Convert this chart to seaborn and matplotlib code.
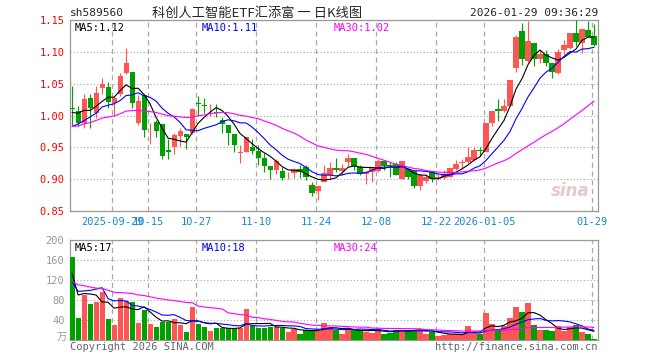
import numpy as np
import pandas as pd
import matplotlib
matplotlib.use("Agg")
import matplotlib.pyplot as plt
import seaborn as sns

# trading days shown (SSE holidays removed)
holidays = ["2025-10-01", "2025-10-02", "2025-10-03", "2025-10-06", "2025-10-07",
            "2025-10-08", "2026-01-01", "2026-01-02"]
dates = [d for d in pd.bdate_range("2025-09-18", "2026-01-29").strftime("%Y-%m-%d")
         if d not in holidays]

open_ = [1.012, 1.007, 0.989, 1.027, 1.004, 1.043, 1.044, 1.019, 1.034, 1.066,
         1.069, 0.988, 1.032, 0.9875, 0.990, 0.986, 0.946, 0.951, 0.968, 0.971,
         0.972, 1.020, 1.016, 1.0145, 1.006, 0.993, 0.985, 0.971, 0.9415, 0.943,
         0.950, 0.945, 0.934, 0.920, 0.914, 0.913, 0.9075, 0.909, 0.916, 0.919,
         0.891, 0.881, 0.896, 0.906, 0.917, 0.9135, 0.927, 0.934, 0.919, 0.908,
         0.911, 0.9135, 0.928, 0.923, 0.924, 0.9005, 0.916, 0.9125, 0.8885, 0.897,
         0.9125, 0.9005, 0.902, 0.904, 0.916, 0.926, 0.9266, 0.930, 0.945, 0.943,
         0.989, 1.0095, 1.007, 1.015, 1.075, 1.133, 1.085, 1.114, 1.089, 1.096,
         1.082, 1.066, 1.1036, 1.106, 1.130, 1.114, 1.135, 1.1255]
high = [1.047, 1.015, 1.033, 1.033, 1.046, 1.059, 1.052, 1.031, 1.066, 1.106,
        1.069, 1.032, 1.033, 0.988, 0.993, 0.986, 0.963, 0.972, 0.981, 0.971,
        1.011, 1.030, 1.027, 1.018, 1.018, 0.998, 0.985, 0.971, 0.953, 0.966,
        0.963, 0.953, 0.941, 0.920, 0.931, 0.919, 0.912, 0.917, 0.922, 0.922,
        0.895, 0.890, 0.922, 0.927, 0.934, 0.924, 0.940, 0.934, 0.922, 0.9135,
        0.919, 0.931, 0.930, 0.927, 0.927, 0.928, 0.916, 0.9125, 0.908, 0.908,
        0.9135, 0.908, 0.915, 0.918, 0.930, 0.932, 0.950, 0.951, 0.951, 0.989,
        1.0065, 1.0255, 1.0255, 1.056, 1.127, 1.146, 1.149, 1.1145, 1.1025, 1.1036,
        1.082, 1.105, 1.118, 1.130, 1.150, 1.136, 1.149, 1.143]
low = [0.985, 0.983, 0.980, 0.981, 0.996, 1.034, 1.011, 1.000, 1.031, 1.065,
       1.011, 0.985, 0.967, 0.956, 0.967, 0.931, 0.932, 0.939, 0.952, 0.948,
       0.971, 1.000, 1.004, 1.000, 0.997, 0.972, 0.954, 0.942, 0.926, 0.942,
       0.939, 0.922, 0.911, 0.901, 0.908, 0.899, 0.901, 0.902, 0.902, 0.898,
       0.873, 0.867, 0.895, 0.901, 0.912, 0.906, 0.920, 0.914, 0.907, 0.893,
       0.896, 0.912, 0.915, 0.904, 0.906, 0.9005, 0.9005, 0.886, 0.883, 0.894,
       0.895, 0.899, 0.9005, 0.903, 0.9146, 0.918, 0.925, 0.929, 0.937, 0.942,
       0.984, 0.992, 1.0057, 1.0145, 1.068, 1.080, 1.084, 1.0775, 1.083, 1.0775,
       1.059, 1.0645, 1.096, 1.105, 1.109, 1.098, 1.123, 1.109]
close = [1.010, 0.989, 1.026, 1.011, 1.036, 1.049, 1.021, 1.027, 1.062, 1.082,
         1.020, 1.023, 0.978, 0.988, 0.976, 0.937, 0.943, 0.969, 0.975, 0.967,
         1.010, 1.018, 1.015, 1.0155, 1.004, 0.987, 0.972, 0.953, 0.9425, 0.966,
         0.945, 0.934, 0.921, 0.914, 0.928, 0.902, 0.9085, 0.916, 0.911, 0.903,
         0.879, 0.890, 0.910, 0.917, 0.915, 0.917, 0.934, 0.921, 0.908, 0.912,
         0.917, 0.928, 0.920, 0.920, 0.907, 0.928, 0.903, 0.8885, 0.907, 0.904,
         0.9005, 0.904, 0.908, 0.918, 0.924, 0.9266, 0.935, 0.946, 0.944, 0.989,
         1.0065, 1.007, 1.015, 1.055, 1.124, 1.088, 1.117, 1.088, 1.097, 1.083,
         1.068, 1.099, 1.110, 1.130, 1.115, 1.136, 1.124, 1.110]
volume = [167, 44, 90, 73, 76, 97, 42, 30, 84, 79,
          76, 34, 60, 32, 26, 37, 37, 42, 30, 17,
          67, 33, 26, 19, 24, 24, 24, 24, 25, 62,
          28, 25, 25, 27, 26, 25, 17, 22, 12, 21,
          21, 19, 34, 27, 21, 13, 23, 20, 20, 17,
          15, 23, 13, 15, 20, 21, 20, 20, 21, 12,
          17, 8, 10, 12, 12, 12, 28, 15, 12, 55,
          32, 20, 28, 45, 67, 57, 75, 30, 20, 20,
          19, 28, 18, 27, 30, 16, 12, 2]

# closes / volumes just before the window, estimated from where the MA lines start
prior_close = [0.950, 0.975, 0.952, 0.978, 0.950, 0.9945, 1.0035, 1.0115, 1.004]
prior_volume = [242, 80, 63, 50, 70, 259, 75, 78, 86]

tick_dates = ["2025-09-29", "2025-10-15", "2025-10-27", "2025-11-10", "2025-11-24",
              "2025-12-08", "2025-12-22", "2026-01-05", "2026-01-29"]
tick_labels = ["2025-09-29", "10-15", "10-27", "11-10", "11-24",
               "12-08", "12-22", "2026-01-05", "01-29"]

RED = "#ff5555"
GREEN = "#00a000"
GRID = "#a8a8a8"

sns.set_theme(style="white")
plt.rcParams["font.family"] = ["DejaVu Sans Mono", "Noto Sans CJK SC"]

n = len(close)
x = np.arange(n)
o = np.array(open_)
c = np.array(close)
up = c >= o
colors = np.where(up, RED, GREEN)

full_c = pd.Series(prior_close + close)
full_v = pd.Series(prior_volume + volume)
k = len(prior_close)
ma = {w: full_c.rolling(w, min_periods=1).mean().to_numpy()[k:] for w in (5, 10, 30)}
vma = {w: full_v.rolling(w, min_periods=1).mean().to_numpy()[k:] for w in (5, 10, 30)}
line_colors = {5: "black", 10: "#0000ff", 30: "#ff00ff"}

fig = plt.figure(figsize=(6.6, 3.6), dpi=100)
ax = fig.add_axes([70 / 660, 1 - 211 / 360, 528 / 660, 191 / 360])
vax = fig.add_axes([70 / 660, 1 - 340 / 360, 528 / 660, 100 / 360])

grid_x = [dates.index(d) - 0.33 for d in tick_dates]

# price panel
body_lo = np.minimum(o, c)
body_h = np.maximum(np.abs(c - o), 0.0012)
ax.vlines(x, low, high, colors=colors, lw=0.8, zorder=3)
ax.bar(x, body_h, bottom=body_lo, width=0.85, color=colors, lw=0, zorder=3)
for w in (5, 10, 30):
    sns.lineplot(x=x, y=ma[w], ax=ax, color=line_colors[w], lw=0.8, zorder=4)

ax.set_xlim(-0.35, n - 0.33)
ax.set_ylim(0.85, 1.15)
ax.set_yticks([0.85, 0.90, 0.95, 1.00, 1.05, 1.10, 1.15])
ax.set_yticklabels([f"{v:.2f}" for v in ax.get_yticks()], color="#ff0000", fontsize=7.5)
ax.set_xticks(grid_x)
ax.set_xticklabels(tick_labels, color="#1a86d0", fontsize=7.5)
ax.tick_params(axis="both", length=0, pad=4)
ax.yaxis.grid(True, linestyle=(0, (1, 2)), color=GRID, lw=0.8)
for gx in grid_x:
    ax.axvline(gx, color=GRID, lw=0.9, linestyle=(0, (4, 3)), zorder=1)
ax.text(0.008, 0.985, "MA5:1.12", transform=ax.transAxes, color="black", fontsize=7.5, va="top")
ax.text(0.25, 0.985, "MA10:1.11", transform=ax.transAxes, color="#0000ff", fontsize=7.5, va="top")
ax.text(0.5, 0.985, "MA30:1.02", transform=ax.transAxes, color="#ff00ff", fontsize=7.5, va="top")
ax.text(0.985, 0.06, "sina", transform=ax.transAxes, color="#e7c9c9", fontsize=12,
        fontweight="bold", style="italic", ha="right", va="bottom", family="DejaVu Sans")

# volume panel
vax.bar(x, volume, width=0.85, color=colors, lw=0, zorder=3)
for w in (5, 10, 30):
    sns.lineplot(x=x, y=vma[w], ax=vax, color=line_colors[w], lw=0.8, zorder=4)
vax.set_xlim(-0.35, n - 0.33)
vax.set_ylim(0, 200)
vax.set_yticks([40, 80, 120, 160, 200])
vax.set_yticklabels(["40", "80", "120", "160", "200"], color="#999999", fontsize=7.5)
vax.set_xticks([])
vax.tick_params(axis="y", length=0, pad=4)
vax.yaxis.grid(True, linestyle=(0, (1, 2)), color=GRID, lw=0.8)
for gx in grid_x:
    vax.axvline(gx, color=GRID, lw=0.9, linestyle=(0, (4, 3)), zorder=1)
vax.text(0.008, 0.97, "MA5:17", transform=vax.transAxes, color="black", fontsize=7.5, va="top")
vax.text(0.25, 0.97, "MA10:18", transform=vax.transAxes, color="#0000ff", fontsize=7.5, va="top")
vax.text(0.5, 0.97, "MA30:24", transform=vax.transAxes, color="#ff00ff", fontsize=7.5, va="top")

for a in (ax, vax):
    for s in a.spines.values():
        s.set_color("#999999")
        s.set_linewidth(0.9)

# header / footer texts
fig.text(70 / 660, 1 - 13 / 360, "sh589560", fontsize=8, va="center", ha="left")
fig.text(257 / 660, 1 - 13 / 360, "科创人工智能ETF汇添富 一 日K线图", fontsize=9.5,
         va="center", ha="center", family=["Noto Sans CJK SC", "DejaVu Sans"])
fig.text(598 / 660, 1 - 13 / 360, "2026-01-29 09:36:29", fontsize=8, va="center", ha="right")
fig.text(67 / 660, 1 - 338 / 360, "万", fontsize=7.5, va="center", ha="right",
         color="#999999", family=["Noto Sans CJK SC", "DejaVu Sans"])
fig.text(70 / 660, 1 - 347 / 360, "Copyright 2026 SINA.COM", fontsize=7.5, va="center",
         ha="left", color="#666666")
fig.text(598 / 660, 1 - 347 / 360, "http://finance.sina.com.cn", fontsize=7.5, va="center",
         ha="right", color="#666666")

fig.savefig("out.png", dpi=100)
